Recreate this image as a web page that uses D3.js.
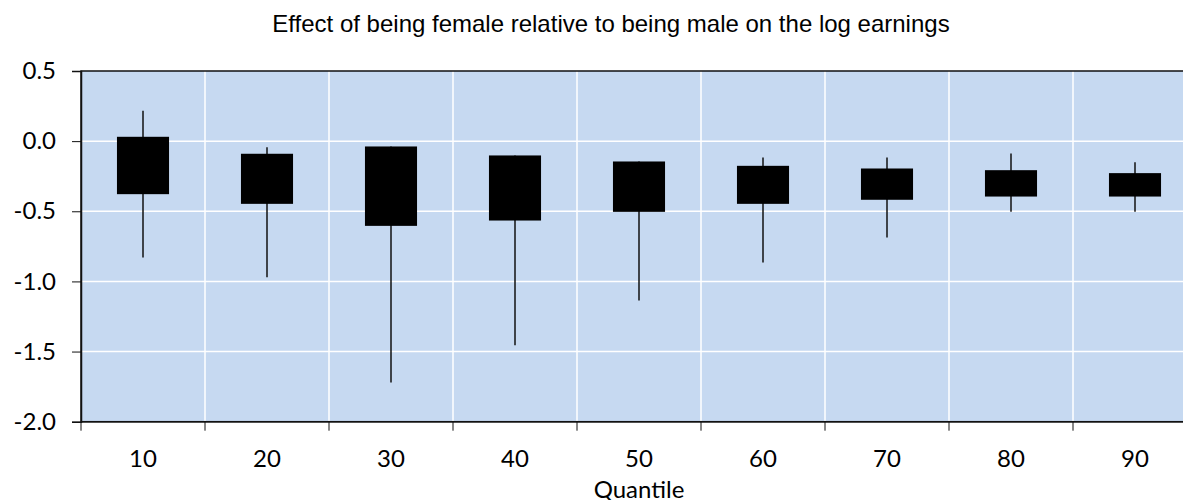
<!DOCTYPE html>
<html>
<head>
<meta charset="utf-8">
<script src="https://cdn.jsdelivr.net/npm/d3@7"></script>
<style>
  body { margin: 0; background: #fff; }
  svg { display: block; }
</style>
</head>
<body>
<div id="chart"></div>
<script>
var quantiles = ["10", "20", "30", "40", "50", "60", "70", "80", "90"];
// whisker top, box top, box bottom, whisker bottom
var whiskerHigh = [0.216, -0.043, -0.038, -0.102, -0.145, -0.116, -0.116, -0.088, -0.150];
var boxHigh     = [0.031, -0.090, -0.038, -0.102, -0.145, -0.176, -0.195, -0.207, -0.228];
var boxLow      = [-0.378, -0.447, -0.604, -0.566, -0.504, -0.447, -0.418, -0.395, -0.395];
var whiskerLow  = [-0.830, -0.970, -1.720, -1.455, -1.136, -0.865, -0.687, -0.504, -0.504];
var yTicks = [0.5, 0.0, -0.5, -1.0, -1.5, -2.0];

var width = 1183, height = 500;
var pLeft = 81, pRight = 1197, pTop = 71, pBottom = 421.7;
var tickFont = "Lato, 'Open Sans', sans-serif";

var svg = d3.select("#chart").append("svg")
  .attr("width", width)
  .attr("height", height);

var x = d3.scaleBand().domain(quantiles).range([pLeft, pRight]).padding(0);
var y = d3.scaleLinear().domain([-2, 0.5]).range([pBottom, pTop]);

// plot area background
svg.append("rect")
  .attr("x", pLeft).attr("y", pTop)
  .attr("width", pRight - pLeft).attr("height", pBottom - pTop)
  .attr("fill", "#c6d9f1");

// gridlines
svg.append("g").selectAll("line")
  .data(yTicks.slice(1, -1))
  .join("line")
  .attr("x1", pLeft).attr("x2", pRight)
  .attr("y1", function(d) { return y(d); })
  .attr("y2", function(d) { return y(d); })
  .attr("stroke", "#fff").attr("stroke-width", 1.5);

svg.append("g").selectAll("line")
  .data(quantiles.slice(1))
  .join("line")
  .attr("x1", function(d) { return x(d); })
  .attr("x2", function(d) { return x(d); })
  .attr("y1", pTop).attr("y2", pBottom)
  .attr("stroke", "#fff").attr("stroke-width", 1.5);

var rows = quantiles.map(function(q, i) {
  return { q: q, wh: whiskerHigh[i], bh: boxHigh[i], bl: boxLow[i], wl: whiskerLow[i] };
});

var boxW = x.bandwidth() * 0.42;

// whiskers
svg.append("g").selectAll("line")
  .data(rows)
  .join("line")
  .attr("x1", function(d) { return x(d.q) + x.bandwidth() / 2; })
  .attr("x2", function(d) { return x(d.q) + x.bandwidth() / 2; })
  .attr("y1", function(d) { return y(d.wh); })
  .attr("y2", function(d) { return y(d.wl); })
  .attr("stroke", "#111").attr("stroke-width", 1.5);

// boxes
svg.append("g").selectAll("rect")
  .data(rows)
  .join("rect")
  .attr("x", function(d) { return x(d.q) + (x.bandwidth() - boxW) / 2; })
  .attr("y", function(d) { return y(d.bh); })
  .attr("width", boxW)
  .attr("height", function(d) { return y(d.bl) - y(d.bh); })
  .attr("fill", "#000");

// frame
svg.append("rect")
  .attr("x", pLeft).attr("y", pTop)
  .attr("width", pRight - pLeft).attr("height", pBottom - pTop)
  .attr("fill", "none").attr("stroke", "#111").attr("stroke-width", 1.5);

// y axis
var yAxis = svg.append("g")
  .attr("transform", "translate(" + pLeft + ",0)")
  .call(d3.axisLeft(y).tickValues(yTicks).tickSize(9).tickPadding(16)
    .tickFormat(function(d) { return d3.format(".1f")(d).replace("\u2212", "-"); }));
yAxis.select(".domain").attr("stroke", "#111").attr("stroke-width", 1.5);
yAxis.selectAll(".tick line").attr("stroke", "#111").attr("stroke-width", 1);
yAxis.selectAll("text")
  .attr("font-family", tickFont)
  .attr("font-size", 24).attr("fill", "#000");

// x axis, ticks on category boundaries
var xAxis = svg.append("g")
  .attr("transform", "translate(0," + pBottom + ")");
xAxis.append("line")
  .attr("x1", pLeft).attr("x2", pRight)
  .attr("stroke", "#111").attr("stroke-width", 1.5);
xAxis.selectAll(".tk")
  .data(quantiles.concat(["end"]))
  .join("line")
  .attr("class", "tk")
  .attr("x1", function(d, i) { return pLeft + i * x.bandwidth(); })
  .attr("x2", function(d, i) { return pLeft + i * x.bandwidth(); })
  .attr("y1", 0).attr("y2", 9)
  .attr("stroke", "#111").attr("stroke-width", 1);
xAxis.selectAll("text")
  .data(quantiles)
  .join("text")
  .attr("x", function(d) { return x(d) + x.bandwidth() / 2; })
  .attr("y", 45.5)
  .attr("text-anchor", "middle")
  .attr("font-family", tickFont)
  .attr("font-size", 24)
  .text(function(d) { return d; });

svg.append("text")
  .attr("x", (pLeft + pRight) / 2)
  .attr("y", 498)
  .attr("text-anchor", "middle")
  .attr("font-family", tickFont)
  .attr("font-size", 24)
  .text("Quantile");

svg.append("text")
  .attr("x", 611)
  .attr("y", 32)
  .attr("text-anchor", "middle")
  .attr("font-family", "'Liberation Sans', Arial, sans-serif")
  .attr("font-size", 24)
  .text("Effect of being female relative to being male on the log earnings");
</script>
</body>
</html>
